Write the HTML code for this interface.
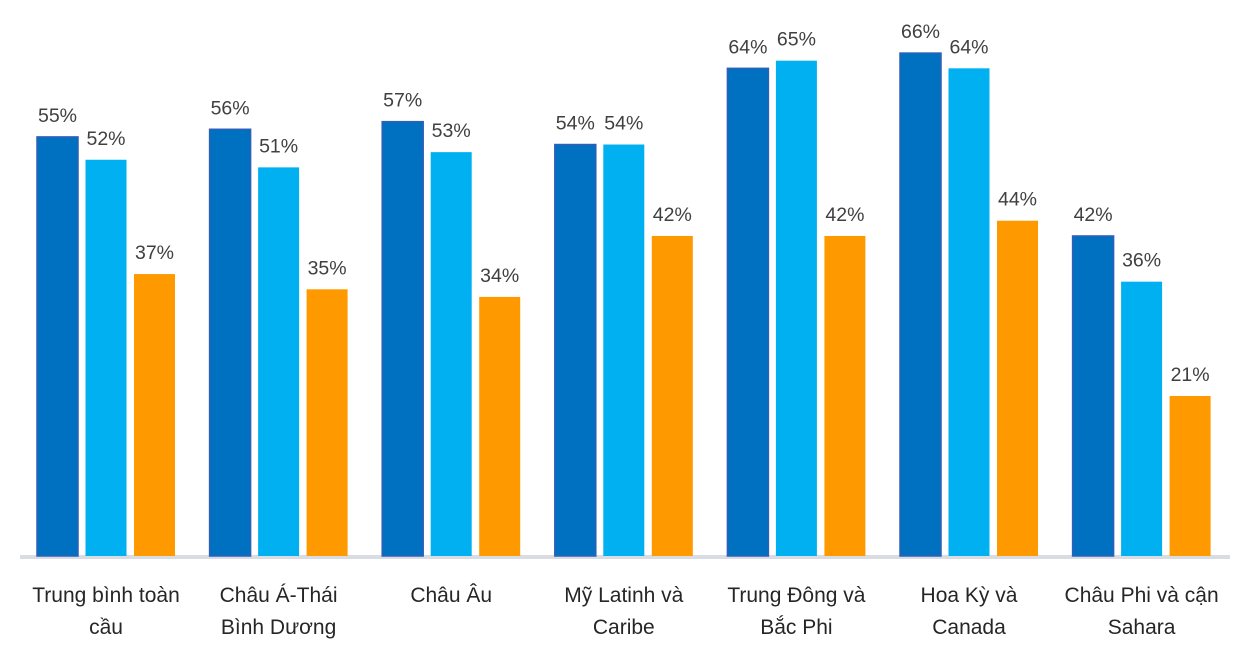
<!DOCTYPE html>
<html><head><meta charset="utf-8"><style>
body{margin:0;background:#fff;width:1250px;height:654px;overflow:hidden;font-family:"Liberation Sans",sans-serif;}
</style></head><body>
<svg width="1250" height="654" id="c"></svg>
<script>
const categories=[["Trung bình toàn","cầu"],["Châu Á-Thái","Bình Dương"],["Châu Âu"],["Mỹ Latinh và","Caribe"],["Trung Đông và","Bắc Phi"],["Hoa Kỳ và","Canada"],["Châu Phi và cận","Sahara"]];
const series1=[55,56,57,54,64,66,42];
const series2=[52,51,53,54,65,64,36];
const series3=[37,35,34,42,42,44,21];
const svg=document.getElementById('c');
const NS='http://www.w3.org/2000/svg';
const base=556, scale=7.62;
const y=v=>base-v*scale;
const gx=i=>106+i*172.6;
function mk(t,a){const e=document.createElementNS(NS,t);for(const k in a)e.setAttribute(k,a[k]);svg.appendChild(e);return e;}
const axis=mk('line',{x1:20,x2:1230,y1:557,y2:557,stroke:'#d9dde3','stroke-width':4});


const sers=[[series1,'#0070C0',-48.5,'#2f5fb8'],[series2,'#00B0F0',0,null],[series3,'#FF9900',48.5,null]];
categories.forEach((c,i)=>{
  sers.forEach((s,j)=>{
    const v=s[0][i];const cx=gx(i)+s[2];
    const r=mk('rect',{x:cx-20.5,y:y(v),width:41,height:base-y(v),fill:s[1]});
    if(s[3]){r.setAttribute('stroke',s[3]);r.setAttribute('stroke-width',1.5);}
    
    
    const t=mk('text',{x:cx,y:y(v)-15,'text-anchor':'middle','font-size':19.5,fill:'#404040'});
    t.textContent=v+'%';
    
    
  });
  c.forEach((ln,k)=>{
    const t=mk('text',{x:gx(i),y:602+k*32,'text-anchor':'middle','font-size':21,fill:'#262626'});
    t.textContent=ln;
    
    
  });
});
</script>
</body></html>
